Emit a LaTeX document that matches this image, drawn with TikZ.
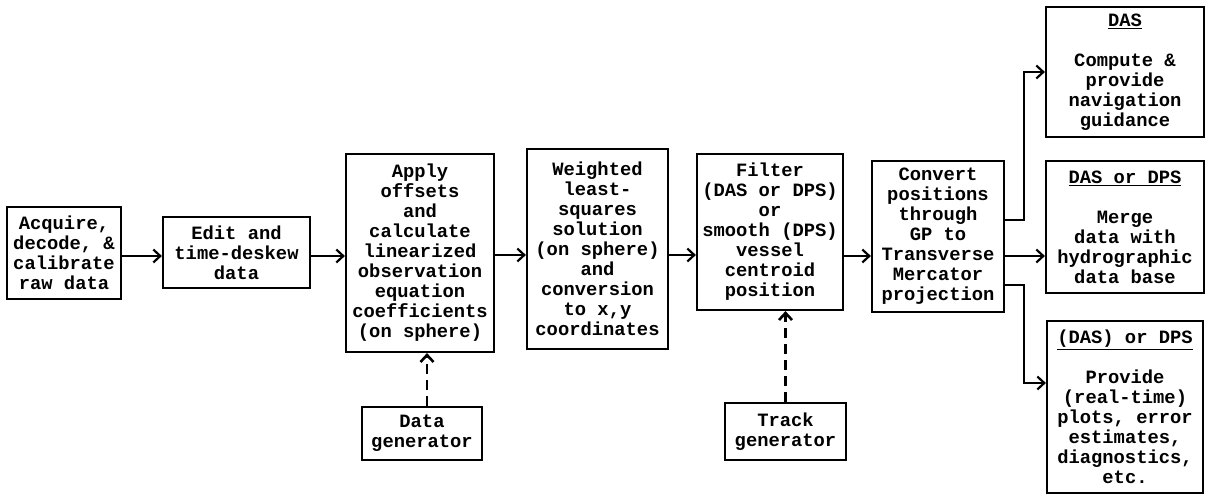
\documentclass[tikz,border=0pt]{standalone}
\usepackage{fontspec}
\setmonofont{Liberation Mono}
\usetikzlibrary{arrows.meta}

\begin{document}
\begin{tikzpicture}[x=1pt,y=-1pt,->,>={Straight Barb[length=7pt,width=13pt]},line width=2.2pt,
                    font=\ttfamily\bfseries\fontsize{18.8}{20}\selectfont]
  \tikzstyle{box}=[draw=black,align=center,inner sep=0pt]
  \tikzstyle{gen}=[line width=2.6pt,dash pattern=on 10pt off 6pt]
  \useasboundingbox (0,0) rectangle (1211,495);
  \coordinate (spine) at (0,256);

  % main chain
  \node[box,minimum width=114pt,minimum height=92pt]  (acq) at (64,253)    {Acquire,\\decode, \&\\calibrate\\raw data};
  \node[box,minimum width=147pt,minimum height=71pt]  (edit) at (236.5,252.5) {Edit and\\time-deskew\\data};
  \node[box,minimum width=148pt,minimum height=198pt] (apply) at (420,253)  {Apply\\offsets\\and\\calculate\\linearized\\observation\\equation\\coefficients\\(on sphere)};
  \node[box,minimum width=141pt,minimum height=200pt] (wls) at (597.5,249)  {Weighted\\least-\\squares\\solution\\(on sphere)\\and\\conversion\\to x,y\\coordinates};
  \node[box,minimum width=146pt,minimum height=156pt] (flt) at (770,232)    {Filter\\(DAS or DPS)\\or\\smooth (DPS)\\vessel\\centroid\\position};
  \node[box,minimum width=132pt,minimum height=151pt] (cnv) at (938,236.5)  {Convert\\positions\\through\\GP to\\Transverse\\Mercator\\projection};

  % outputs
  \node[box,minimum width=158pt,minimum height=130pt] (das) at (1125,72)   {\underline{DAS}\\[20pt]Compute \&\\provide\\navigation\\guidance};
  \node[box,minimum width=158pt,minimum height=132pt] (mrg) at (1125,227)  {\underline{DAS or DPS}\\[20pt]Merge\\data with\\hydrographic\\data base};
  \node[box,minimum width=156pt,minimum height=172pt] (plt) at (1125,407)  {\underline{(DAS) or DPS}\\[20pt]Provide\\(real-time)\\plots, error\\estimates,\\diagnostics,\\etc.};

  % generators
  \node[box,minimum width=120pt,minimum height=53pt] (dgen) at (422,433.5) {Data\\generator};
  \node[box,minimum width=121pt,minimum height=57pt] (tgen) at (785.5,431.5) {Track\\generator};

  \draw (acq.east |- spine) -- (edit.west |- spine);
  \draw (edit.east |- spine) -- (apply.west |- spine);
  \draw (apply.east |- 0,255) -- (wls.west |- 0,255);
  \draw (wls.east |- 0,255) -- (flt.west |- 0,255);
  \draw (flt.east |- spine) -- (cnv.west |- spine);
  \draw ([yshift=16.5pt]cnv.east) -- ++(19,0) |- (das.west);
  \draw (cnv.east |- spine) -- (mrg.west |- spine);
  \draw ([yshift=-48.5pt]cnv.east) -- ++(19,0) |- ([yshift=24pt]plt.west);
  \draw[gen] ([xshift=5pt]dgen.north) -- ([xshift=5pt]dgen.north |- apply.south);
  \draw[gen] (tgen.north) -- (tgen.north |- flt.south);
\end{tikzpicture}
\end{document}
